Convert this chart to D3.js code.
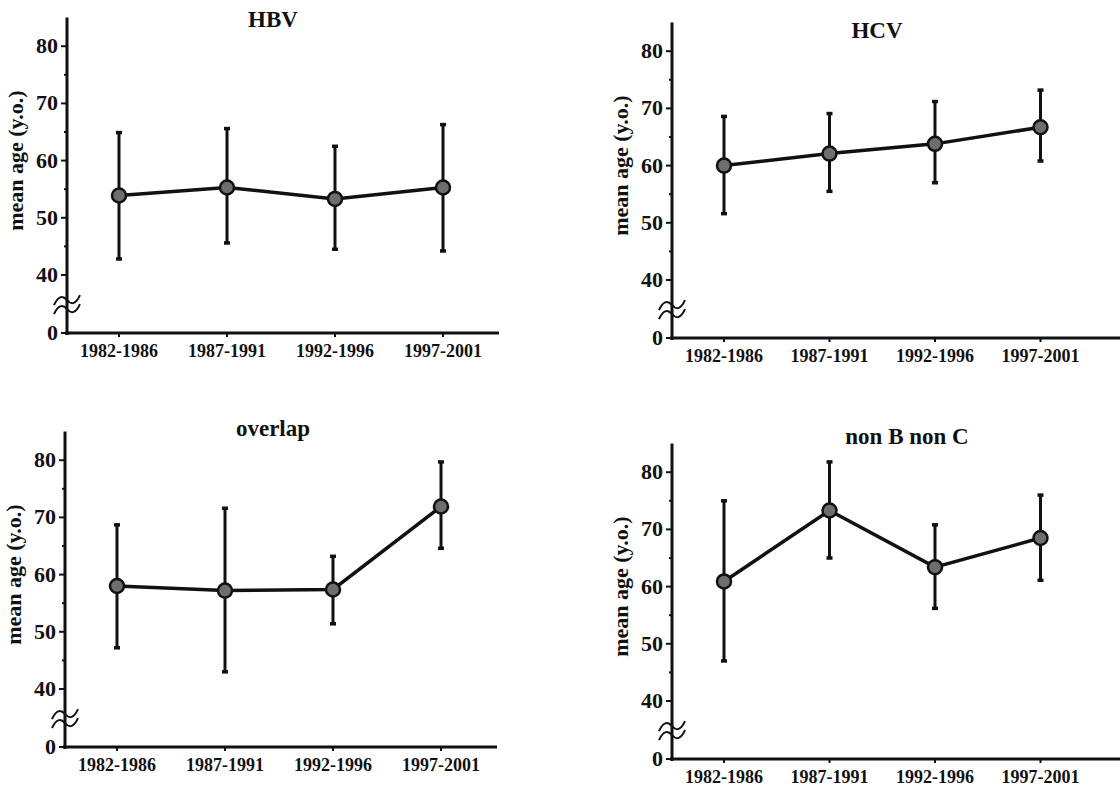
<!DOCTYPE html>
<html>
<head>
<meta charset="utf-8">
<script src="https://cdn.jsdelivr.net/npm/d3@7"></script>
<style>
  body { margin: 0; background: #fff; }
</style>
</head>
<body>
<svg id="chart" width="1120" height="788" font-family="'Liberation Serif', 'DejaVu Serif', serif" font-weight="bold"></svg>
<script>
const categories = ["1982-1986", "1987-1991", "1992-1996", "1997-2001"];
const yTicks = [0, 40, 50, 60, 70, 80];
const yMinorTicks = [45, 55, 65, 75];

// mean, upper and lower end of error bar, per period
const hbvMean  = [53.9, 55.3, 53.3, 55.3];
const hbvUpper = [64.9, 65.6, 62.5, 66.3];
const hbvLower = [42.8, 45.6, 44.5, 44.2];

const hcvMean  = [60.0, 62.1, 63.8, 66.7];
const hcvUpper = [68.6, 69.1, 71.2, 73.2];
const hcvLower = [51.6, 55.5, 57.0, 60.8];

const overlapMean  = [58.0, 57.2, 57.4, 71.9];
const overlapUpper = [68.7, 71.6, 63.2, 79.7];
const overlapLower = [47.2, 43.0, 51.4, 64.6];

const nbncMean  = [60.9, 73.3, 63.4, 68.5];
const nbncUpper = [75.0, 81.8, 70.8, 76.0];
const nbncLower = [47.0, 65.0, 56.2, 61.1];

const panels = [
  { title: "HBV", mean: hbvMean, upper: hbvUpper, lower: hbvLower },
  { title: "HCV", mean: hcvMean, upper: hcvUpper, lower: hcvLower },
  { title: "overlap", mean: overlapMean, upper: overlapUpper, lower: overlapLower },
  { title: "non B non C", mean: nbncMean, upper: nbncUpper, lower: nbncLower }
];

// where each small chart sits on the page (axis origin)
const layout = [
  { x: 67, y: 333, xEnd: 432, step: 108, titleX: 206, titleY: -306 },
  { x: 672, y: 338, xEnd: 450, step: 105.5, titleX: 205, titleY: -300 },
  { x: 65, y: 747, xEnd: 432, step: 108, titleX: 208, titleY: -311 },
  { x: 672, y: 759, xEnd: 450, step: 105.5, titleX: 235, titleY: -315 }
];

const svg = d3.select("#chart");

// broken axis: 0..40 squeezed, then 10 units = 57px
const y = d3.scaleLinear().domain([0, 40, 85]).range([0, -58, -58 - 45 * 5.72]);

panels.forEach((p, i) => {
  const L = layout[i];
  const g = svg.append("g").attr("transform", `translate(${L.x},${L.y})`);

  const x = d3.scalePoint().domain(categories)
    .range([52, 52 + 3 * L.step]);

  // y axis
  g.append("line")
    .attr("x1", 0).attr("x2", 0)
    .attr("y1", 2).attr("y2", y(85))
    .attr("stroke", "#111").attr("stroke-width", 3);

  g.selectAll(".ytick").data(yTicks).enter().append("line")
    .attr("x1", -6).attr("x2", 0)
    .attr("y1", d => y(d)).attr("y2", d => y(d))
    .attr("stroke", "#111").attr("stroke-width", 2);

  g.selectAll(".yminor").data(yMinorTicks).enter().append("line")
    .attr("x1", -3).attr("x2", 0)
    .attr("y1", d => y(d)).attr("y2", d => y(d))
    .attr("stroke", "#111").attr("stroke-width", 2);

  g.selectAll(".ylab").data(yTicks).enter().append("text")
    .attr("x", -9)
    .attr("y", d => y(d) + 7)
    .attr("text-anchor", "end")
    .attr("font-size", 22)
    .attr("fill", "#111")
    .text(d => d);

  // axis break
  const by = y(22);
  [0, 9].forEach(off => {
    g.append("path")
      .attr("d", `M-13,${by + off + 4} Q-7,${by + off - 9} 0,${by + off - 1} T13,${by + off - 6}`)
      .attr("fill", "none").attr("stroke", "#111").attr("stroke-width", 2);
  });

  // x axis
  g.append("line")
    .attr("x1", -2).attr("x2", L.xEnd)
    .attr("y1", 0).attr("y2", 0)
    .attr("stroke", "#111").attr("stroke-width", 3);

  g.selectAll(".xtick").data(categories).enter().append("line")
    .attr("x1", d => x(d)).attr("x2", d => x(d))
    .attr("y1", 0).attr("y2", 4)
    .attr("stroke", "#111").attr("stroke-width", 2);

  g.selectAll(".xlab").data(categories).enter().append("text")
    .attr("x", d => x(d))
    .attr("y", 24)
    .attr("text-anchor", "middle")
    .attr("font-size", 18)
    .attr("fill", "#111")
    .text(d => d);

  // y label
  g.append("text")
    .attr("transform", `translate(-44,${y(60)}) rotate(-90)`)
    .attr("text-anchor", "middle")
    .attr("font-size", 22)
    .attr("fill", "#111")
    .text("mean age (y.o.)");

  // title
  g.append("text")
    .attr("x", L.titleX).attr("y", L.titleY)
    .attr("text-anchor", "middle")
    .attr("font-size", 23)
    .attr("fill", "#111")
    .text(p.title);

  const rows = categories.map((c, j) => ({ c, m: p.mean[j], hi: p.upper[j], lo: p.lower[j] }));

  // error bars
  g.selectAll(".err").data(rows).enter().append("line")
    .attr("x1", d => x(d.c)).attr("x2", d => x(d.c))
    .attr("y1", d => y(d.hi)).attr("y2", d => y(d.lo))
    .attr("stroke", "#111").attr("stroke-width", 3);

  ["hi", "lo"].forEach(k => {
    g.selectAll(".cap" + k).data(rows).enter().append("line")
      .attr("x1", d => x(d.c) - 3).attr("x2", d => x(d.c) + 3)
      .attr("y1", d => y(d[k])).attr("y2", d => y(d[k]))
      .attr("stroke", "#111").attr("stroke-width", 3.5);
  });

  // mean line
  const line = d3.line().x(d => x(d.c)).y(d => y(d.m));
  g.append("path").datum(rows)
    .attr("d", line)
    .attr("fill", "none").attr("stroke", "#111").attr("stroke-width", 3.5);

  g.selectAll(".pt").data(rows).enter().append("circle")
    .attr("cx", d => x(d.c)).attr("cy", d => y(d.m))
    .attr("r", 7)
    .attr("fill", "#6e6e6e")
    .attr("stroke", "#111").attr("stroke-width", 2.5);
});
</script>
</body>
</html>
